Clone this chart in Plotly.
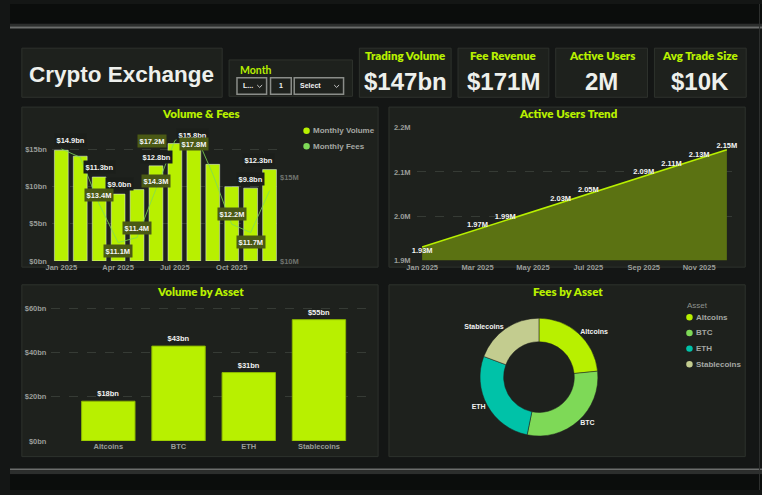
import plotly.graph_objects as go

W, H = 762, 495

# ---------------- data ----------------
months = ["Jan 2025", "Feb 2025", "Mar 2025", "Apr 2025", "May 2025", "Jun 2025",
          "Jul 2025", "Aug 2025", "Sep 2025", "Oct 2025", "Nov 2025", "Dec 2025"]
monthly_volume_bn = [14.9, 14.1, 11.3, 9.0, 9.6, 12.8, 15.8, 15.0, 13.0, 10.0, 9.8, 12.3]
monthly_fees_m = [16.7, 16.2, 13.4, 11.1, 11.4, 14.3, 17.2, 17.8, 15.2, 12.2, 11.7, 14.2]
active_users_m = [1.93, 1.95, 1.97, 1.99, 2.01, 2.03, 2.05, 2.07, 2.09, 2.11, 2.13, 2.15]
assets = ["Altcoins", "BTC", "ETH", "Stablecoins"]
asset_volume_bn = [18, 43, 31, 55]
asset_fees_m = [40, 51, 47, 33]
kpi_titles = ["Trading Volume", "Fee Revenue", "Active Users", "Avg Trade Size"]
kpi_values = ["$147bn", "$171M", "2M", "$10K"]
series_names = ["Monthly Volume", "Monthly Fees"]
month_ticks = ["Jan 2025", "Apr 2025", "Jul 2025", "Oct 2025"]
trend_ticks = ["Jan 2025", "Mar 2025", "May 2025", "Jul 2025", "Sep 2025", "Nov 2025"]
vol_ticks = [0, 5, 10, 15]
fee_ticks = [10, 15]
users_ticks = [1.9, 2.0, 2.1, 2.2]
asset_ticks = [0, 20, 40, 60]

# ---------------- styles ----------------
LIME = "#b8f000"
GREEN = "#7ed957"
TEAL = "#00c2a8"
SAND = "#c3cc8f"
OLIVE = "#5b7212"
PAGE = "#141615"
PANEL = "#1e211d"
BORDER = "#2e322d"
GRID = "#363b35"
TICK = "#9a9d99"
WHITE = "#f2f2f2"
SANS = "Liberation Sans, Arial, sans-serif"
NARROW = "Lato, Roboto, sans-serif"

# label offsets (xshift, yshift) in px for visible labels
vol_label_pos = {0: (9, 10), 2: (0, 10), 3: (1, 10), 5: (1, 9), 6: (18, 9), 10: (0, 9), 11: (-11, 10)}
fee_label_pos = {2: (0, 9.5), 3: (0, -8.5), 4: (0, 10), 5: (0, 8), 6: (-23, 0), 7: (0, -13), 9: (0, 10), 10: (0, -9)}
users_label_idx = [0, 2, 3, 5, 6, 8, 9, 10, 11]


def px(x):
    return x / W


def py(y):
    return 1 - y / H


def rect(x0, y0, x1, y1, fill, line=None, lw=1):
    return dict(type="rect", xref="paper", yref="paper", x0=px(x0), x1=px(x1), y0=py(y1), y1=py(y0),
                fillcolor=fill, line=dict(color=line or fill, width=lw if line else 0), layer="below")


def path(points, color, width=1.2):
    d = "M " + " L ".join(f"{px(a):.5f},{py(b):.5f}" for a, b in points)
    return dict(type="path", xref="paper", yref="paper", path=d, line=dict(color=color, width=width))


def circle(cx, cy, r, color):
    return dict(type="circle", xref="paper", yref="paper", x0=px(cx - r), x1=px(cx + r),
                y0=py(cy + r), y1=py(cy - r), fillcolor=color, line=dict(width=0))


def text(x, y, s, size, color, family=SANS, weight=700, xanchor="center", **kw):
    return dict(x=px(x), y=py(y), xref="paper", yref="paper", text=s, showarrow=False,
                xanchor=xanchor, yanchor="middle",
                font=dict(family=family, size=size, color=color, weight=weight), **kw)


fig = go.Figure()

# Volume & Fees
fig.add_trace(go.Bar(x=months, y=monthly_volume_bn, name=series_names[0], marker=dict(color=LIME),
                     width=0.73, xaxis="x", yaxis="y", hoverinfo="skip"))
fig.add_trace(go.Scatter(x=months, y=monthly_fees_m, name=series_names[1], mode="lines",
                         line=dict(color="rgba(126,217,87,0.8)", width=1), xaxis="x", yaxis="y2",
                         hoverinfo="skip"))

# Active users trend
users_text = [f"{v:.2f}M" if i in users_label_idx else "" for i, v in enumerate(active_users_m)]
users_pos = ["bottom center" if i == 0 else "top center" for i in range(len(active_users_m))]
fig.add_trace(go.Scatter(x=months, y=active_users_m, mode="lines+text", fill="tozeroy", fillcolor=OLIVE,
                         line=dict(color=LIME, width=1.5), text=users_text, textposition=users_pos,
                         textfont=dict(family=SANS, size=7.5, color=WHITE, weight=700),
                         cliponaxis=False, xaxis="x3", yaxis="y3", hoverinfo="skip"))

# Volume by asset
fig.add_trace(go.Bar(x=assets, y=asset_volume_bn, marker=dict(color=LIME, line=dict(color="#8cb800", width=1)),
                     width=0.76, text=[f"${v}bn" for v in asset_volume_bn], textposition="outside",
                     textfont=dict(family=SANS, size=7.5, color=WHITE, weight=700), cliponaxis=False,
                     xaxis="x4", yaxis="y4", hoverinfo="skip"))

# Fees by asset
pie_colors = [LIME, GREEN, TEAL, SAND]
fig.add_trace(go.Pie(labels=assets, values=asset_fees_m, hole=0.6, sort=False, direction="clockwise",
                     rotation=0, marker=dict(colors=pie_colors, line=dict(color=PANEL, width=0.5)),
                     textinfo="label", textposition="outside",
                     outsidetextfont=dict(family=SANS, size=7, color=WHITE, weight=700),
                     domain=dict(x=[px(476), px(596)], y=[py(440), py(320)]), showlegend=False,
                     hoverinfo="skip"))

tickfont = dict(family=SANS, size=7.5, color=TICK, weight=700)

layout = dict(
    width=W, height=H, margin=dict(l=0, r=0, t=0, b=0),
    paper_bgcolor=PAGE, plot_bgcolor="rgba(0,0,0,0)", showlegend=False,
    xaxis=dict(domain=[px(42.4), px(272.6)], anchor="y", type="category", tickvals=month_ticks,
               tickfont=tickfont, showgrid=False, zeroline=False, showline=False, ticks="",
               ticklabelstandoff=1),
    yaxis=dict(domain=[py(261.7), py(125.5)], range=[0, 18], tickvals=vol_ticks,
               ticktext=[f"${v}bn" for v in vol_ticks], tickfont=tickfont, gridcolor=GRID,
               griddash="dash", gridwidth=1, zeroline=False, ticks="", anchor="x",
               ticklabelstandoff=4),
    yaxis2=dict(overlaying="y", side="right", range=[10, 18], tickvals=fee_ticks,
                ticktext=[f"${v}M" for v in fee_ticks], tickfont=dict(family=SANS, size=7.5, color="#6f736e", weight=700),
                showgrid=False, zeroline=False, ticks="", anchor="x"),
    xaxis3=dict(domain=[px(412), px(732)], anchor="y3", type="category", range=[-0.2, 11.2],
                tickvals=trend_ticks, tickfont=tickfont, showgrid=False, zeroline=False, ticks="",
                ticklabelstandoff=1),
    yaxis3=dict(domain=[py(261), py(126)], anchor="x3", range=[1.9, 2.2], tickvals=users_ticks,
                ticktext=[f"{v:.1f}M" for v in users_ticks], tickfont=tickfont, gridcolor=GRID,
                griddash="dash", zeroline=False, ticks="", ticklabelstandoff=5),
    xaxis4=dict(domain=[px(42), px(370)], anchor="y4", type="category", range=[-0.81, 3.8],
                tickfont=tickfont, showgrid=False, zeroline=False, ticks=""),
    yaxis4=dict(domain=[py(445), py(305.8)], anchor="x4", range=[0, 62], tickvals=asset_ticks,
                ticktext=[f"${v}bn" for v in asset_ticks], tickfont=tickfont, gridcolor=GRID,
                griddash="dash", zeroline=False, ticks="", ticklabelstandoff=4),
)

shapes = []
# bezel top/bottom
shapes.append(rect(0, 0, W, 20, "#0b0d0c"))
shapes.append(rect(0, 20, W, 23, "#2c2e2d"))
shapes.append(rect(0, 23, W, 25, "#6b6d6c"))
shapes.append(rect(0, 473, W, 475, "#6b6d6c"))
shapes.append(rect(0, 475, W, 479, "#2c2e2d"))
shapes.append(rect(0, 479, W, H, "#0b0d0c"))
shapes.append(rect(759, 0, 760, H, "#2f3130"))
# title + filter
shapes.append(rect(12, 45, 215, 95, PANEL, BORDER))
shapes.append(rect(222, 57, 347, 94, PANEL, BORDER))
shapes.append(rect(230, 75, 260, 92, PANEL, "#8a8d89", 1.5))
shapes.append(rect(264, 75, 285, 92, PANEL, "#8a8d89", 1.5))
shapes.append(rect(288, 75, 338, 92, PANEL, "#8a8d89", 1.5))
shapes.append(path([(250.5, 82.5), (253, 85), (255.5, 82.5)], "#c8c8c8", 1))
shapes.append(path([(328.5, 82.5), (331, 85), (333.5, 82.5)], "#c8c8c8", 1))
# KPI cards
kpi_x = [(354, 447), (454, 546), (553, 646), (653, 746)]
for x0, x1 in kpi_x:
    shapes.append(rect(x0, 45, x1, 95, PANEL, BORDER))
# chart panels
shapes.append(rect(12, 105, 373, 268, PANEL, BORDER))
shapes.append(rect(384, 105, 745, 268, PANEL, BORDER))
shapes.append(rect(12, 286, 373, 461, PANEL, BORDER))
shapes.append(rect(384, 286, 745, 461, PANEL, BORDER))

# legends
leg1_colors = [LIME, GREEN]
for i, (nm, c) in enumerate(zip(series_names, leg1_colors)):
    shapes.append(circle(300.5, 129 + 16 * i, 3.3, c))
for i, (nm, c) in enumerate(zip(assets, pie_colors)):
    shapes.append(circle(688.5, 319 + 16 * i, 3.3, c))

annotations = []
annotations.append(text(113, 72, "Crypto Exchange", 22.5, "#eef0ec"))
annotations.append(text(231, 67, "Month", 10.5, LIME, NARROW, xanchor="left"))
annotations.append(text(234, 83.5, "L...", 7, WHITE, xanchor="left"))
annotations.append(text(271, 83.5, "1", 7, WHITE, xanchor="left"))
annotations.append(text(292, 83.5, "Select", 7, WHITE, xanchor="left"))
for (x0, x1), t, v in zip(kpi_x, kpi_titles, kpi_values):
    annotations.append(text((x0 + x1) / 2, 52.5, t, 11.5, LIME, NARROW, weight=800))
    annotations.append(text((x0 + x1) / 2, 79, v, 24, "#eef0ec"))
annotations.append(text(193.5, 112, "Volume & Fees", 11.5, LIME, NARROW, weight=800))
annotations.append(text(565, 112, "Active Users Trend", 11.5, LIME, NARROW, weight=800))
annotations.append(text(193, 293, "Volume by Asset", 11.5, LIME, NARROW, weight=800))
annotations.append(text(565, 293, "Fees by Asset", 11.5, LIME, NARROW, weight=800))
for i, nm in enumerate(series_names):
    annotations.append(text(305, 129 + 16 * i, nm, 8, "#a4a7a3", xanchor="left"))
annotations.append(text(684, 307, "Asset", 8, "#8d918c", weight=400, xanchor="left"))
for i, nm in enumerate(assets):
    annotations.append(text(693, 319 + 16 * i, nm, 8, "#a4a7a3", xanchor="left"))

lblfont = dict(family=SANS, size=7.5, color=WHITE, weight=700)
for i, (dx, dy) in vol_label_pos.items():
    annotations.append(dict(x=months[i], y=monthly_volume_bn[i], xref="x", yref="y",
                            text=f"${monthly_volume_bn[i]:.1f}bn", showarrow=False, xshift=dx, yshift=dy,
                            bgcolor="#1b1e1a", borderpad=1.5, font=lblfont))
for i, (dx, dy) in fee_label_pos.items():
    annotations.append(dict(x=months[i], y=monthly_fees_m[i], xref="x", yref="y2",
                            text=f"${monthly_fees_m[i]:.1f}M", showarrow=False, xshift=dx, yshift=dy,
                            bgcolor="#4a5915", borderpad=1.5, font=lblfont))

layout["shapes"] = shapes
layout["annotations"] = annotations
fig.update_layout(**layout)

fig.write_html("out.html")
